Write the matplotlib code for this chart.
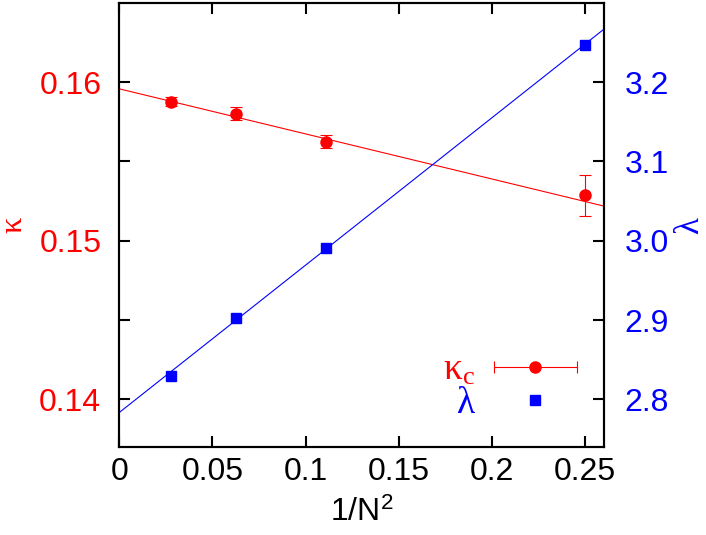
import matplotlib
matplotlib.use("Agg")
import matplotlib.pyplot as plt
import numpy as np
from matplotlib.lines import Line2D
from matplotlib.legend_handler import HandlerLine2D, HandlerTuple
from matplotlib.ticker import FuncFormatter, MultipleLocator

plt.rcParams["font.family"] = ["Liberation Sans", "DejaVu Sans"]
plt.rcParams["mathtext.fontset"] = "stix"

# data: x = 1/N^2 for N = 6, 4, 3, 2
inv_n2 = [1 / 36, 1 / 16, 1 / 9, 1 / 4]
kappa_c = [0.15875, 0.15800, 0.15624, 0.15285]
kappa_err = [0.00028, 0.00041, 0.00041, 0.0013]
lam = [2.830, 2.9025, 2.991, 3.2463]

# linear fits (intercept, slope)
kappa_fit = (0.15957, -0.0284)
lam_fit = (2.7835, 1.857)

RED, BLUE = "#ff0000", "#0000ff"
FS = 23

fig = plt.figure(figsize=(7.06, 5.35), dpi=100)
ax = fig.add_axes([0.169, 0.1645, 0.686, 0.829])
ax2 = ax.twinx()

xfit = np.array([0.0, 0.26])
ax.plot(xfit, kappa_fit[0] + kappa_fit[1] * xfit, color=RED, lw=0.8, zorder=2)
ax.errorbar(inv_n2, kappa_c, yerr=kappa_err, fmt="o", color=RED, ms=8,
            elinewidth=0.8, capsize=4, capthick=0.8, zorder=3)
ax2.plot(xfit, lam_fit[0] + lam_fit[1] * xfit, color=BLUE, lw=0.8, zorder=2)
ax2.plot(inv_n2, lam, "s", color=BLUE, ms=7.5, zorder=3)

ax.set_xlim(0, 0.26)
ax.set_ylim(0.137, 0.16495)
ax2.set_ylim(2.74, 3.299)

ax.xaxis.set_major_locator(MultipleLocator(0.05))
ax.xaxis.set_major_formatter(FuncFormatter(lambda v, p: f"{v:g}"))
ax.yaxis.set_major_locator(MultipleLocator(0.005))
ax.yaxis.set_major_formatter(FuncFormatter(
    lambda v, p: f"{v:.2f}" if abs(round(v / 0.01) * 0.01 - v) < 1e-6 else ""))
ax2.yaxis.set_major_locator(MultipleLocator(0.1))
ax2.yaxis.set_major_formatter(FuncFormatter(lambda v, p: f"{v:.1f}"))

ax.tick_params(axis="x", direction="in", top=True, length=8, width=1.5,
               labelsize=FS, pad=7)
ax.tick_params(axis="y", direction="in", right=False, length=8, width=1.5,
               labelsize=FS, pad=13, labelcolor=RED)
ax2.tick_params(axis="y", direction="in", length=8, width=1.5,
                labelsize=FS, pad=15, labelcolor=BLUE)
for a in (ax, ax2):
    for s in a.spines.values():
        s.set_linewidth(1.5)

ax.set_xlabel("1/N$^\\mathregular{2}$", fontsize=FS, labelpad=8)
ax.set_ylabel("κ", color=RED, fontsize=FS, family="Liberation Serif", labelpad=8)
ax2.set_ylabel("λ", color=BLUE, fontsize=FS + 2, family="Liberation Serif",
               rotation=90, labelpad=3)

# legend in gnuplot style: label left, horizontal error bar sample
cap_line = Line2D([], [], color=RED, lw=0.8, marker="|", ms=8, mew=0.8)
dot = Line2D([], [], color=RED, marker="o", ls="none", ms=8)
sq = Line2D([], [], color=BLUE, marker="s", ls="none", ms=7.5)
leg = ax.legend([(cap_line, dot), sq], ["κ$_\\mathregular{c}$", "λ"],
                handler_map={cap_line: HandlerLine2D(numpoints=2),
                             tuple: HandlerTuple(ndivide=1)},
                loc="center right", bbox_to_anchor=(0.9675, 0.135),
                markerfirst=False, frameon=False,
                prop={"family": "Liberation Serif", "size": 27},
                handlelength=2.8, handletextpad=0.2, labelspacing=-0.05,
                borderpad=0, borderaxespad=0, numpoints=1)
for t, c in zip(leg.get_texts(), (RED, BLUE)):
    t.set_color(c)

fig.savefig("out.png", dpi=100)
